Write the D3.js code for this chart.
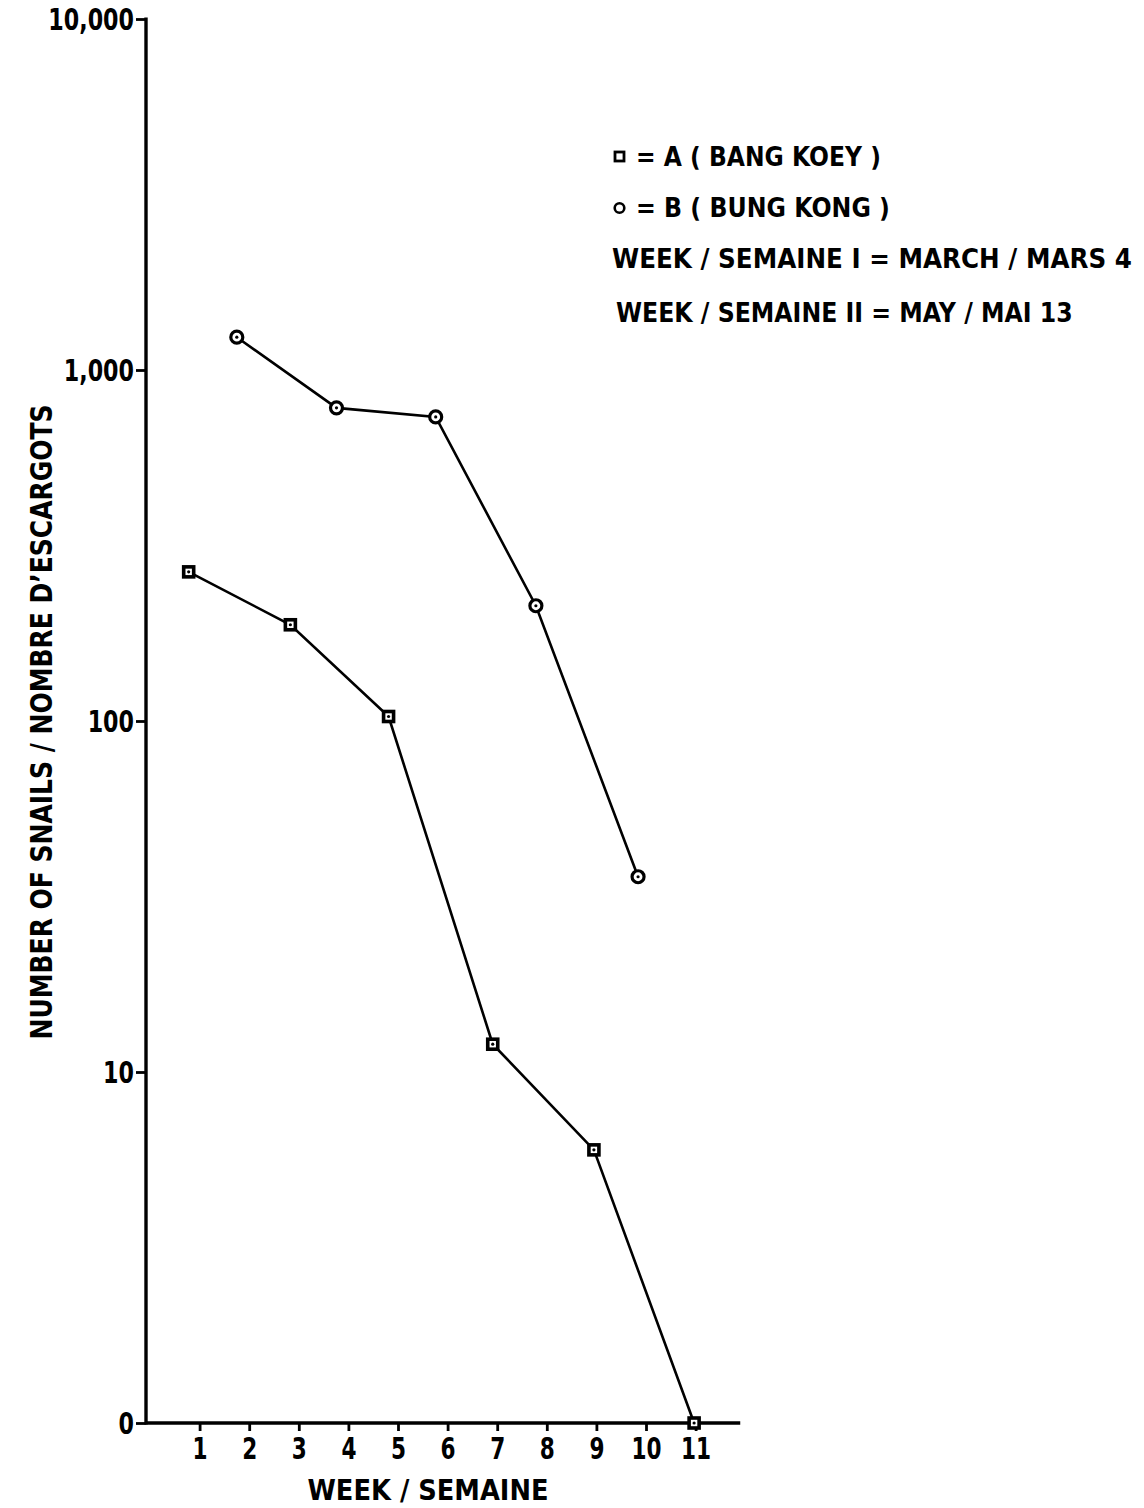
<!DOCTYPE html>
<html>
<head>
<meta charset="utf-8">
<script src="https://cdn.jsdelivr.net/npm/d3@7"></script>
<style>
  html, body { margin: 0; padding: 0; background: #fff; }
  svg { display: block; }
  text { font-family: "DejaVu Sans", "Open Sans", sans-serif; font-weight: bold; fill: #000; }
</style>
</head>
<body>
<svg id="chart" width="1144" height="1508"></svg>
<script>
// Snail counts per week, two sampling sites (log scale, 0 drawn on the baseline)
const weeksA  = [0.78, 2.83, 4.81, 6.91, 8.95, 10.97];
const snailsA = [266, 188, 103, 12, 6, 0];
const weeksB  = [1.75, 3.76, 5.76, 7.78, 9.84];
const snailsB = [1240, 780, 735, 213, 36];

const weekTicks = [1, 2, 3, 4, 5, 6, 7, 8, 9, 10, 11];
const countTicks = [1, 10, 100, 1000, 10000];
const countTickLabels = ["0", "10", "100", "1,000", "10,000"];

const legendLines = [
  "= A ( BANG KOEY )",
  "= B ( BUNG KONG )",
  "WEEK / SEMAINE I = MARCH / MARS 4",
  "WEEK / SEMAINE II = MAY / MAI 13"
];

const svg = d3.select("#chart");

// narrow the lettering horizontally by a factor
function condense(sel, k) {
  sel.each(function () {
    const w = this.getComputedTextLength();
    d3.select(this).attr("textLength", w * k).attr("lengthAdjust", "spacingAndGlyphs");
  });
}

const x = d3.scaleLinear().domain([0, 12]).range([150, 150 + 12 * 49.6]);
const y = d3.scaleLog().domain([1, 10000]).range([1423, 19]);
const yv = v => y(Math.max(v, 1));
const axisX = 146;

// y axis
const yAxis = d3.axisLeft(y)
  .tickValues(countTicks)
  .tickFormat((d, i) => countTickLabels[i])
  .tickSize(10)
  .tickPadding(2);
const gy = svg.append("g").attr("transform", `translate(${axisX},0)`).call(yAxis);
gy.select(".domain").remove();
gy.selectAll(".tick line").attr("stroke", "#000").attr("stroke-width", 2.8);
gy.selectAll(".tick text")
  .attr("font-family", null)
  .style("font-size", "30px").attr("dy", "0.36em")
  .call(condense, 0.74);
svg.append("line")
  .attr("x1", axisX).attr("x2", axisX)
  .attr("y1", y(10000) - 1.5).attr("y2", y(1) + 1.5)
  .attr("stroke", "#000").attr("stroke-width", 3.4);

// x axis
const xAxis = d3.axisBottom(x)
  .tickValues(weekTicks)
  .tickFormat(d3.format("d"))
  .tickSize(8)
  .tickPadding(7);
const gx = svg.append("g").attr("transform", `translate(0,${y(1)})`).call(xAxis);
gx.select(".domain").remove();
gx.selectAll(".tick line").attr("stroke", "#000").attr("stroke-width", 2.8);
gx.selectAll(".tick text")
  .attr("font-family", null)
  .style("font-size", "30px")
  .call(condense, 0.72);
svg.append("line")
  .attr("x1", axisX).attr("x2", x(11.9))
  .attr("y1", y(1)).attr("y2", y(1))
  .attr("stroke", "#000").attr("stroke-width", 3.4);

// axis titles
svg.append("text")
  .attr("transform", `translate(52,722) rotate(-90)`)
  .attr("text-anchor", "middle")
  .attr("textLength", 635).attr("lengthAdjust", "spacingAndGlyphs")
  .style("font-size", "30px")
  .text("NUMBER OF SNAILS / NOMBRE D\u2019ESCARGOTS");

svg.append("text")
  .attr("x", 428).attr("y", 1500)
  .attr("text-anchor", "middle")
  .attr("textLength", 241).attr("lengthAdjust", "spacingAndGlyphs")
  .style("font-size", "29px")
  .text("WEEK / SEMAINE");

// series lines
const line = d3.line().x(d => x(d[0])).y(d => yv(d[1]));
const ptsA = weeksA.map((w, i) => [w, snailsA[i]]);
const ptsB = weeksB.map((w, i) => [w, snailsB[i]]);

[ptsA, ptsB].forEach(pts => {
  svg.append("path")
    .attr("d", line(pts))
    .attr("fill", "none")
    .attr("stroke", "#000")
    .attr("stroke-width", 2.6);
});

// square markers (A)
const gA = svg.append("g");
ptsA.forEach(d => {
  const cx = x(d[0]), cy = yv(d[1]);
  gA.append("rect")
    .attr("x", cx - 5).attr("y", cy - 5)
    .attr("width", 10).attr("height", 10)
    .attr("fill", "#fff").attr("stroke", "#000").attr("stroke-width", 3.6);
  gA.append("circle").attr("cx", cx).attr("cy", cy).attr("r", 1.6).attr("fill", "#000");
});

// circle markers (B)
const gB = svg.append("g");
ptsB.forEach(d => {
  const cx = x(d[0]), cy = yv(d[1]);
  gB.append("circle")
    .attr("cx", cx).attr("cy", cy).attr("r", 6)
    .attr("fill", "#fff").attr("stroke", "#000").attr("stroke-width", 3.2);
  gB.append("circle").attr("cx", cx).attr("cy", cy).attr("r", 1.6).attr("fill", "#000");
});

// legend
const legend = svg.append("g");
legend.append("rect")
  .attr("x", 615).attr("y", 152).attr("width", 9).attr("height", 9)
  .attr("fill", "#fff").attr("stroke", "#000").attr("stroke-width", 2.8);
legend.append("circle")
  .attr("cx", 619.5).attr("cy", 208).attr("r", 4.8)
  .attr("fill", "#fff").attr("stroke", "#000").attr("stroke-width", 2.6);

// legend lines are squeezed to their set widths with a horizontal scale
const legendX = [636, 636, 612, 616];
const legendY = [166, 217, 268, 322];
const legendW = [245, 254, 520, 457];
legendLines.forEach((t, i) => {
  const txt = legend.append("text")
    .attr("x", 0).attr("y", 0)
    .style("font-size", "26px")
    .text(t);
  const w = txt.node().getComputedTextLength();
  txt.attr("transform", `translate(${legendX[i]},${legendY[i]}) scale(${legendW[i] / w},1)`);
});
</script>
</body>
</html>
